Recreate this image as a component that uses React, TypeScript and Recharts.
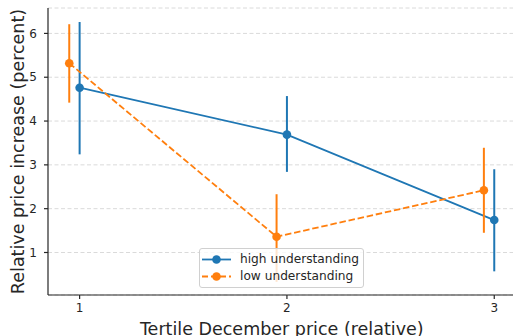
import React from "react";
import {
  CartesianGrid,
  ComposedChart,
  ErrorBar,
  Legend,
  Line,
  XAxis,
  YAxis,
} from "recharts";

// Tertile positions on the x axis and the per-group means with CI bounds
const tertiles = [1, 2, 3];
const lowDodge = -0.05;

const highMean = [4.76, 3.69, 1.74];
const highLower = [3.24, 2.84, 0.57];
const highUpper = [6.26, 4.57, 2.9];

const lowMean = [5.32, 1.36, 2.42];
const lowLower = [4.42, 0.33, 1.45];
const lowUpper = [6.21, 2.33, 3.39];

const yTicks = [1, 2, 3, 4, 5, 6];

const BLUE = "#1f77b4";
const ORANGE = "#ff7f0e";
const INK = "#262626";
const FONT = "'DejaVu Sans', sans-serif";

const buildSeries = (mean: number[], lower: number[], upper: number[], shift: number) =>
  tertiles.map((t, i) => ({
    x: t + shift,
    y: mean[i],
    err: [mean[i] - lower[i], upper[i] - mean[i]],
  }));

const highData = buildSeries(highMean, highLower, highUpper, 0);
const lowData = buildSeries(lowMean, lowLower, lowUpper, lowDodge);

const xDomain: [number, number] = [0.8475, 3.1025];
const yDomain: [number, number] = [0.03, 6.58];

function LegendBox() {
  const rows = [
    { label: "high understanding", color: BLUE, dash: undefined },
    { label: "low understanding", color: ORANGE, dash: "6 3" },
  ];
  return (
    <div
      style={{
        width: 163,
        height: 38,
        border: "1px solid #d0d0d0",
        borderRadius: 3,
        background: "rgba(255,255,255,0.8)",
        fontFamily: FONT,
        fontSize: 12.2,
        color: INK,
        boxSizing: "content-box",
      }}
    >
      {rows.map((r, i) => (
        <div
          key={r.label}
          style={{ display: "flex", alignItems: "center", height: 17, marginTop: i === 0 ? 2 : 0 }}
        >
          <svg width={40} height={17} style={{ flexShrink: 0 }}>
            <line
              x1={2}
              x2={31}
              y1={8.5}
              y2={8.5}
              stroke={r.color}
              strokeWidth={1.8}
              strokeDasharray={r.dash}
            />
            <circle cx={16.5} cy={8.5} r={4.3} fill={r.color} />
          </svg>
          <span style={{ lineHeight: "17px" }}>{r.label}</span>
        </div>
      ))}
    </div>
  );
}

export default function App() {
  return (
    <div
      style={{
        position: "absolute",
        left: 0,
        top: 0,
        width: 513,
        height: 336,
        overflow: "hidden",
        background: "#fff",
      }}
    >
      <ComposedChart
        width={530}
        height={336}
        margin={{ top: 8, right: 14.5, left: 0, bottom: 0 }}
      >
        <CartesianGrid
          vertical={false}
          stroke="#dadada"
          strokeDasharray="4 2.5"
          strokeWidth={1}
        />
        <XAxis
          xAxisId="top"
          orientation="top"
          type="number"
          domain={xDomain}
          allowDataOverflow
          height={0}
          tick={false}
          tickLine={false}
          axisLine={{ stroke: INK, strokeWidth: 1.2 }}
        />
        <XAxis
          dataKey="x"
          type="number"
          domain={xDomain}
          ticks={tertiles}
          allowDataOverflow
          height={41}
          tickSize={4}
          tickMargin={4}
          tick={{ fontFamily: FONT, fontSize: 12, fill: INK }}
          tickLine={{ stroke: INK, strokeWidth: 1.2 }}
          axisLine={{ stroke: INK, strokeWidth: 1.2 }}
          label={(props: any) => {
            const vb = props.viewBox;
            return (
              <text
                x={vb.x + vb.width / 2}
                y={vb.y + 40}
                textAnchor="middle"
                fontFamily={FONT}
                fontSize={17.5}
                fill={INK}
              >
                Tertile December price (relative)
              </text>
            );
          }}
        />
        <YAxis
          type="number"
          domain={yDomain}
          ticks={yTicks}
          allowDataOverflow
          width={48}
          tickSize={4}
          tickMargin={7}
          tick={{ fontFamily: FONT, fontSize: 12, fill: INK }}
          tickLine={{ stroke: INK, strokeWidth: 1.2 }}
          axisLine={{ stroke: INK, strokeWidth: 1.2 }}
          label={(props: any) => {
            const vb = props.viewBox;
            const cy = vb.y + vb.height / 2;
            return (
              <text
                x={23.5}
                y={cy}
                transform={`rotate(-90, 23.5, ${cy})`}
                textAnchor="middle"
                fontFamily={FONT}
                fontSize={17.5}
                fill={INK}
              >
                Relative price increase (percent)
              </text>
            );
          }}
        />
        <Line
          data={highData}
          dataKey="y"
          stroke={BLUE}
          strokeWidth={1.8}
          dot={{ r: 4.3, fill: BLUE, stroke: BLUE, strokeWidth: 0 }}
          activeDot={false}
          isAnimationActive={false}
        >
          <ErrorBar dataKey="err" direction="y" width={0} stroke={BLUE} strokeWidth={2} />
        </Line>
        <Line
          data={lowData}
          dataKey="y"
          stroke={ORANGE}
          strokeWidth={1.8}
          strokeDasharray="6.5 2.8"
          dot={{ r: 4.3, fill: ORANGE, stroke: ORANGE, strokeWidth: 0, strokeDasharray: "0" }}
          activeDot={false}
          isAnimationActive={false}
        >
          <ErrorBar dataKey="err" direction="y" width={0} stroke={ORANGE} strokeWidth={2} />
        </Line>
        <Legend
          layout="vertical"
          verticalAlign="middle"
          align="center"
          wrapperStyle={{ left: 199, top: 248, width: 165, height: 40 }}
          content={() => <LegendBox />}
        />
      </ComposedChart>
    </div>
  );
}
